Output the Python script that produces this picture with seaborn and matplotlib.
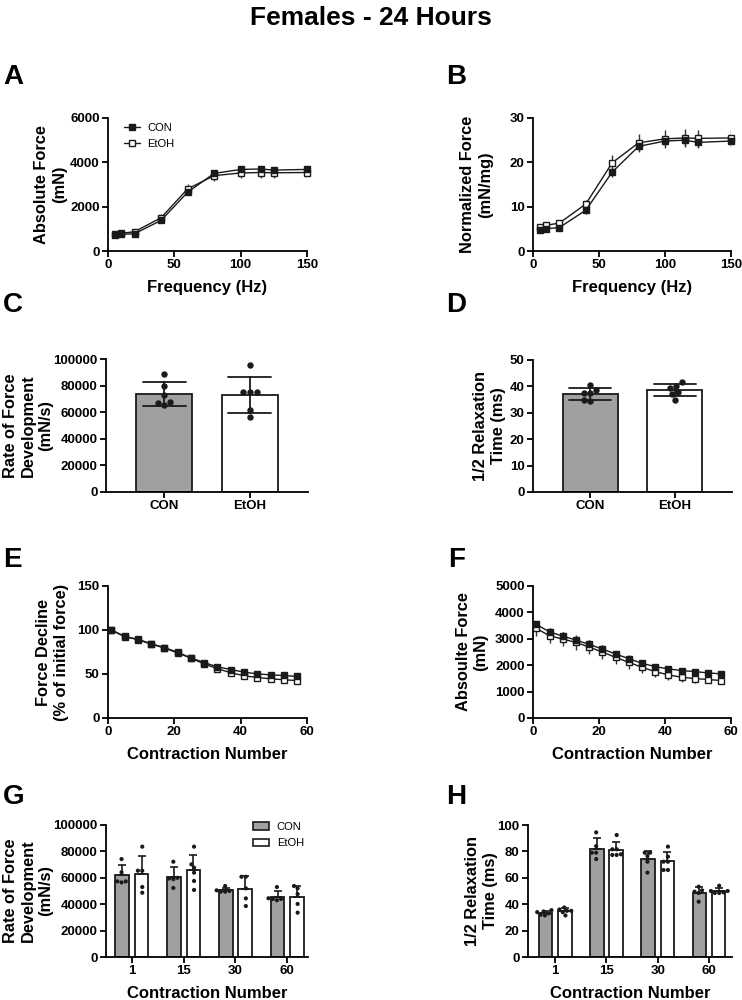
import numpy as np
import pandas as pd
import matplotlib
matplotlib.use("Agg")
import matplotlib.pyplot as plt
import seaborn as sns
from matplotlib import font_manager
from matplotlib.lines import Line2D
from matplotlib.patches import Patch

# ---------------- data ----------------
groups = ["CON", "EtOH"]

freq = [5, 10, 20, 40, 60, 80, 100, 115, 125, 150]
abs_con = [700, 750, 780, 1380, 2650, 3500, 3680, 3700, 3650, 3680]
abs_con_sem = [60, 60, 70, 100, 130, 120, 100, 100, 110, 110]
abs_etoh = [780, 800, 870, 1500, 2800, 3400, 3520, 3540, 3530, 3540]
abs_etoh_sem = [80, 90, 100, 150, 220, 250, 240, 240, 240, 240]

norm_con = [4.8, 5.0, 5.3, 9.2, 17.8, 23.6, 24.8, 25.0, 24.5, 24.8]
norm_con_sem = [0.4, 0.4, 0.4, 0.8, 1.0, 1.0, 1.2, 1.3, 1.2, 1.2]
norm_etoh = [5.5, 5.8, 6.3, 10.6, 19.9, 24.4, 25.3, 25.5, 25.4, 25.5]
norm_etoh_sem = [0.5, 0.5, 0.6, 1.0, 1.8, 2.0, 2.0, 2.0, 2.0, 2.0]

rfd_con = [88700, 79700, 72900, 67400, 66700, 65400]
rfd_etoh = [95200, 74900, 74900, 74900, 61400, 56600]

relax_con = [37.4, 38.7, 40.4, 37.5, 34.6, 34.9]
relax_etoh = [39.5, 41.5, 40.3, 37.2, 37.8, 35.0]

contraction = [1, 5, 9, 13, 17, 21, 25, 29, 33, 37, 41, 45, 49, 53, 57]
decl_con = [100, 92.8, 89.4, 84.5, 80.0, 74.7, 68.3, 63.0, 58.1, 55.1, 52.1, 50.2, 49.0, 48.3, 47.2]
decl_con_sem = [0, 1, 1, 1, 1, 1, 1, 1, 1, 1, 1, 1, 1, 1, 1]
decl_etoh = [100, 92.5, 89.0, 84.0, 79.5, 74.0, 68.0, 61.5, 56.0, 51.5, 48.0, 46.0, 44.5, 43.5, 42.5]
decl_etoh_sem = [0, 1, 1, 1, 1, 1, 1, 1.5, 1.5, 1.5, 1.5, 1.5, 1.5, 1.5, 1.5]

fat_con = [3543, 3266, 3103, 2952, 2789, 2613, 2425, 2249, 2073, 1947, 1860, 1797, 1759, 1709, 1671]
fat_con_sem = [150, 140, 140, 140, 150, 140, 130, 120, 120, 110, 110, 110, 100, 100, 100]
fat_etoh = [3392, 3116, 2990, 2864, 2688, 2500, 2299, 2111, 1922, 1759, 1633, 1545, 1495, 1457, 1420]
fat_etoh_sem = [300, 290, 280, 280, 270, 260, 250, 240, 220, 200, 180, 170, 160, 150, 150]

contr_groups = ["1", "15", "30", "60"]
g_con = {"1": [74200, 64200, 57300, 56500, 57300],
         "15": [72200, 60000, 59000, 59500, 52300],
         "30": [53800, 50000, 49500, 49500, 50500],
         "60": [53000, 44500, 44000, 43000, 44000]}
g_etoh = {"1": [83600, 65400, 65400, 53000, 48700],
          "15": [83600, 70200, 67700, 63900, 57600, 50800],
          "30": [60800, 60800, 52000, 44400, 38600],
          "60": [52000, 53800, 47700, 40200, 33600]}
h_con = {"1": [32.0, 34.0, 35.5, 33.0, 34.5, 31.5],
         "15": [94.4, 84.0, 79.0, 79.0, 74.2],
         "30": [79.0, 79.0, 76.5, 72.2, 63.9],
         "60": [53.3, 50.5, 49.5, 48.5, 41.9]}
h_etoh = {"1": [37.5, 36.0, 35.0, 34.0, 31.5, 35.0],
          "15": [92.4, 81.6, 81.6, 77.3, 77.8, 77.3],
          "30": [83.6, 76.0, 72.2, 72.2, 65.9, 65.9],
          "60": [54.0, 50.0, 50.0, 49.0, 48.5, 48.5]}

# ---------------- style ----------------
sns.set_theme(style="ticks")
avail = {f.name for f in font_manager.fontManager.ttflist}
plt.rcParams["font.family"] = ["Liberation Sans", "DejaVu Sans"]
plt.rcParams["axes.linewidth"] = 1.3
plt.rcParams["xtick.major.width"] = 1.3
plt.rcParams["ytick.major.width"] = 1.3
plt.rcParams["xtick.major.size"] = 4
plt.rcParams["ytick.major.size"] = 4
plt.rcParams["axes.edgecolor"] = "black"
plt.rcParams["xtick.color"] = "black"
plt.rcParams["ytick.color"] = "black"
plt.rcParams["text.color"] = "black"
plt.rcParams["axes.labelcolor"] = "black"

GRAY = "#a0a0a0"
W, H = 742, 1000
fig = plt.figure(figsize=(W / 100, H / 100), dpi=100)


def add_ax(x0, x1, y0, y1):
    return fig.add_axes([x0 / W, 1 - y1 / H, (x1 - x0) / W, (y1 - y0) / H])


def style(ax, ylabel, xlabel, lab_x):
    sns.despine(ax=ax)
    ax.tick_params(labelsize=9.5, pad=2, colors="black")
    for t in ax.get_xticklabels() + ax.get_yticklabels():
        t.set_fontweight("bold")
    ax.set_ylabel(ylabel, fontsize=11.8, fontweight="bold", linespacing=1.25, color="black")
    ax.yaxis.set_label_coords(lab_x, 0.5)
    ax.yaxis.label.set_verticalalignment("center")
    if xlabel:
        ax.set_xlabel(xlabel, fontsize=12, fontweight="bold", labelpad=6, color="black")
    else:
        ax.set_xlabel("")


def line_panel(ax, x, ycon, econ, yet, eet):
    ax.errorbar(x, yet, yerr=eet, fmt="none", ecolor="#333333", elinewidth=1, capsize=0, zorder=2)
    ax.errorbar(x, ycon, yerr=econ, fmt="none", ecolor="#333333", elinewidth=1, capsize=0, zorder=2)
    sns.lineplot(x=x, y=yet, ax=ax, color="k", marker="s", markersize=5, markerfacecolor="white",
                 markeredgecolor="k", markeredgewidth=1, linewidth=1, zorder=3, clip_on=False)
    sns.lineplot(x=x, y=ycon, ax=ax, color="k", marker="s", markersize=5, markerfacecolor="k",
                 markeredgecolor="k", markeredgewidth=1, linewidth=1, zorder=4, clip_on=False)


# ---- A ----
axA = add_ax(108, 307, 118, 251)
line_panel(axA, freq, abs_con, abs_con_sem, abs_etoh, abs_etoh_sem)
axA.set_xlim(0, 150); axA.set_ylim(0, 6000)
axA.set_xticks([0, 50, 100, 150]); axA.set_yticks([0, 2000, 4000, 6000])
style(axA, "Absolute Force\n(mN)", "Frequency (Hz)", -0.29)
hA = [Line2D([], [], color="k", marker="s", markersize=5, mfc="k", mec="k", lw=1),
      Line2D([], [], color="k", marker="s", markersize=5, mfc="white", mec="k", lw=1)]
axA.legend(hA, groups, loc="upper left", bbox_to_anchor=(0.03, 1.04), frameon=False,
           fontsize=8, handlelength=1.4, handletextpad=0.7, labelspacing=0.55)

# ---- B ----
axB = add_ax(533, 731, 118, 251)
line_panel(axB, freq, norm_con, norm_con_sem, norm_etoh, norm_etoh_sem)
axB.set_xlim(0, 150); axB.set_ylim(0, 30)
axB.set_xticks([0, 50, 100, 150]); axB.set_yticks([0, 10, 20, 30])
style(axB, "Normalized Force\n(mN/mg)", "Frequency (Hz)", -0.283)


# ---- C / D ----
def bar_panel(ax, con, etoh, size):
    df = pd.DataFrame({"group": ["CON"] * len(con) + ["EtOH"] * len(etoh),
                       "value": list(con) + list(etoh)})
    sns.barplot(data=df, x="group", y="value", hue="group", order=groups, hue_order=groups,
                palette={"CON": GRAY, "EtOH": "white"}, errorbar="sd", capsize=0.5,
                width=0.65, edgecolor="k", linewidth=1.3, legend=False, ax=ax,
                err_kws={"color": "k", "linewidth": 1.3})
    sns.swarmplot(data=df, x="group", y="value", order=groups, color="k", size=size, ax=ax, zorder=5)
    ax.set_xlim(-0.68, 1.68)


axC = add_ax(106, 308, 359, 492)
bar_panel(axC, rfd_con, rfd_etoh, 4.6)
axC.set_ylim(0, 100000); axC.set_yticks(np.arange(0, 100001, 20000))
style(axC, "Rate of Force\nDevelopment\n(mN/s)", None, -0.386)

axD = add_ax(533, 732, 360, 492)
bar_panel(axD, relax_con, relax_etoh, 4.6)
axD.set_ylim(0, 50); axD.set_yticks(np.arange(0, 51, 10))
style(axD, "1/2 Relaxation\nTime (ms)", None, -0.219)

# ---- E ----
axE = add_ax(108, 307, 586, 718)
line_panel(axE, contraction, decl_con, decl_con_sem, decl_etoh, decl_etoh_sem)
axE.set_xlim(0, 60); axE.set_ylim(0, 150)
axE.set_xticks([0, 20, 40, 60]); axE.set_yticks([0, 50, 100, 150])
style(axE, "Force Decline\n(% of initial force)", "Contraction Number", -0.279)

# ---- F ----
axF = add_ax(533, 731, 586, 718)
line_panel(axF, contraction, fat_con, fat_con_sem, fat_etoh, fat_etoh_sem)
axF.set_xlim(0, 60); axF.set_ylim(0, 5000)
axF.set_xticks([0, 20, 40, 60]); axF.set_yticks(np.arange(0, 5001, 1000))
style(axF, "Absoulte Force\n(mN)", "Contraction Number", -0.308)


# ---- G / H ----
def grouped_panel(ax, con, etoh):
    rows = []
    for c in contr_groups:
        rows += [(c, "CON", v) for v in con[c]]
        rows += [(c, "EtOH", v) for v in etoh[c]]
    df = pd.DataFrame(rows, columns=["contraction", "group", "value"])
    sns.barplot(data=df, x="contraction", y="value", hue="group", order=contr_groups,
                hue_order=groups, palette={"CON": GRAY, "EtOH": "white"}, errorbar=None,
                width=0.75, gap=0.3, edgecolor="k", linewidth=1.3, legend=False, ax=ax)
    sds = df.groupby(["group", "contraction"])["value"].std()
    for cont, g in zip(ax.containers, groups):
        for bar, c in zip(cont, contr_groups):
            xc = bar.get_x() + bar.get_width() / 2
            ax.errorbar([xc], [bar.get_height()], yerr=[[0], [sds[(g, c)]]], fmt="none",
                        ecolor="k", elinewidth=1.2, capsize=2.8, capthick=1.2, zorder=4)
    sns.swarmplot(data=df, x="contraction", y="value", hue="group", order=contr_groups,
                  hue_order=groups, dodge=True, palette={"CON": "k", "EtOH": "k"},
                  size=3.0, legend=False, ax=ax, zorder=5)


axG = add_ax(106, 308, 825, 957)
grouped_panel(axG, g_con, g_etoh)
axG.set_xlim(-0.5, 3.4)
axG.set_ylim(0, 100000); axG.set_yticks(np.arange(0, 100001, 20000))
style(axG, "Rate of Force\nDevelopment\n(mN/s)", "Contraction Number", -0.386)
hG = [Patch(facecolor=GRAY, edgecolor="k", linewidth=1.2),
      Patch(facecolor="white", edgecolor="k", linewidth=1.2)]
axG.legend(hG, groups, loc="upper left", bbox_to_anchor=(0.68, 1.1), frameon=False,
           fontsize=8, handlelength=1.4, handleheight=0.7, handletextpad=0.7, labelspacing=0.6)

axH = add_ax(528, 732, 825, 957)
grouped_panel(axH, h_con, h_etoh)
axH.set_xlim(-0.53, 3.45)
axH.set_ylim(0, 100); axH.set_yticks(np.arange(0, 101, 20))
style(axH, "1/2 Relaxation\nTime (ms)", "Contraction Number", -0.23)

# ---- title and panel letters ----
title_fams = [f for f in ["Liberation Sans Narrow", "DejaVu Sans Condensed"] if f in avail]
if title_fams:
    fig.text(0.5, 1 - 18 / H, "Females - 24 Hours", ha="center", va="center", fontsize=22,
             fontweight="bold", family=title_fams + ["Liberation Sans"], color="black")
else:
    fig.text(0.5, 1 - 18 / H, "Females - 24 Hours", ha="center", va="center", fontsize=19,
             fontweight="bold", color="black")

for letter, px, py in [("A", 3, 64), ("B", 446, 64), ("C", 3, 292), ("D", 446, 292),
                       ("E", 3, 547), ("F", 448, 547), ("G", 3, 784), ("H", 446, 784)]:
    fig.text(px / W, 1 - py / H, letter, ha="left", va="top", fontsize=20, fontweight="bold",
             color="black")

fig.savefig("out.png", dpi=100)
